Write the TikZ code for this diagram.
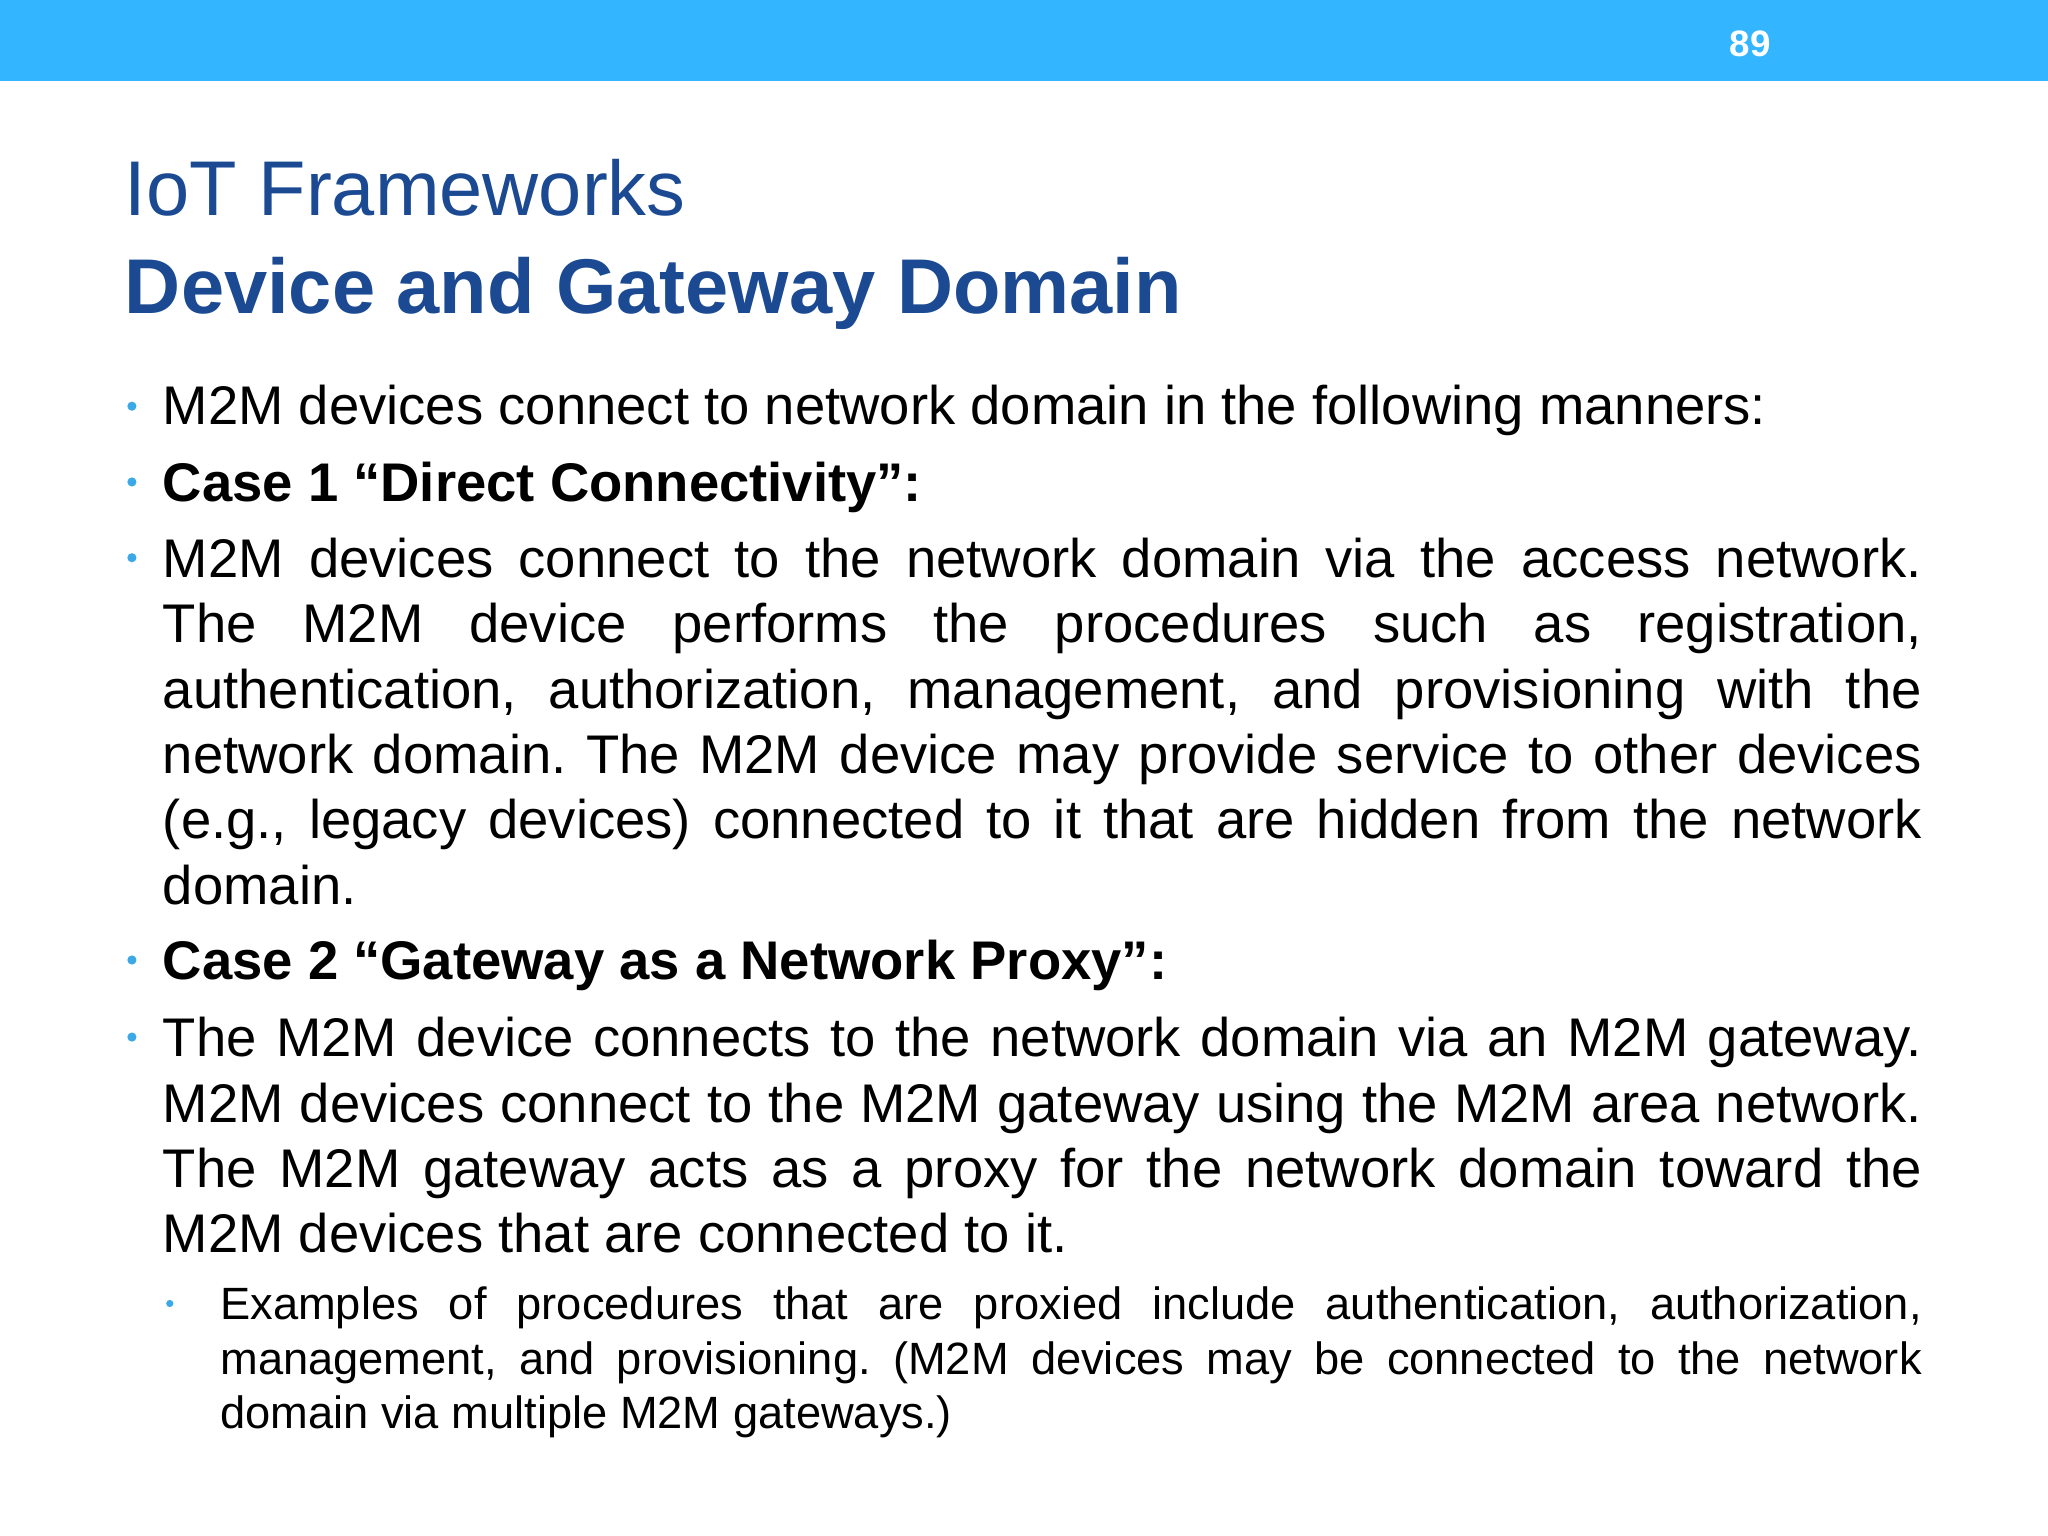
\documentclass[tikz,border=0pt]{standalone}
\usepackage{fontspec}
\setmainfont{Liberation Sans}
\definecolor{barblue}{HTML}{33B6FF}
\definecolor{titleblue}{HTML}{1B4A93}
\definecolor{bulblue}{HTML}{3BA9E8}
\begin{document}
\begin{tikzpicture}[x=0.01cm,y=-0.01cm,
 body/.style={anchor=base west,inner sep=0,text width=13.46cm,align=justify,font=\fontsize{11.85pt}{14.23pt}\selectfont\frenchspacing},
 sub/.style={anchor=base west,inner sep=0,text width=13.02cm,align=justify,font=\fontsize{9.85pt}{11.95pt}\selectfont\frenchspacing},
 bul/.style={fill=bulblue,circle,inner sep=0,minimum size=0.07cm}]
\useasboundingbox (0,0) rectangle (1568,1176);
\fill[white] (0,0) rectangle (1568,1176);
\fill[barblue] (0,0) rectangle (1568,62);
\node[anchor=base,text=white,font=\fontsize{8pt}{9pt}\selectfont\bfseries] (pg) at (1340,43) {89};
\node[anchor=base west,inner sep=0,text=titleblue,font=\fontsize{16.9pt}{20pt}\selectfont] (t1) at (95,165) {IoT Frameworks};
\node[anchor=base west,inner sep=0,text=titleblue,font=\fontsize{16.9pt}{20pt}\selectfont\bfseries] (t2) at (95,240) {Device and Gateway Domain};
\hyphenpenalty=10000 \exhyphenpenalty=10000
\node[bul] (b1) at (101,311) {};
\node[body] (p1) at (124,325) {M2M devices connect to network domain in the following manners:};
\node[bul] (b2) at (101,369) {};
\node[body] (p2) at (124,384) {\bfseries Case 1 “Direct Connectivity”:};
\node[bul] (b3) at (101,427) {};
\node[body] (p3) at (124,442) {\hyphenpenalty=10000 M2M devices connect to the network domain via the access network.\linebreak The M2M device performs the procedures such as registration,\linebreak authentication, authorization, management, and provisioning with the\linebreak network domain. The M2M device may provide service to other devices\linebreak (e.g., legacy devices) connected to it that are hidden from the network\linebreak domain.};
\node[bul] (b4) at (101,735) {};
\node[body] (p4) at (124,750) {\bfseries Case 2 “Gateway as a Network Proxy”:};
\node[bul] (b5) at (101,794) {};
\node[body] (p5) at (124,809) {\hyphenpenalty=10000 The M2M device connects to the network domain via an M2M gateway.\linebreak M2M devices connect to the M2M gateway using the M2M area network.\linebreak The M2M gateway acts as a proxy for the network domain toward the\linebreak M2M devices that are connected to it.};
\node[bul,minimum size=0.055cm] (b6) at (130,998) {};
\node[sub] (p6) at (168,1010) {\hyphenpenalty=10000 Examples of procedures that are proxied include authentication, authorization, management, and provisioning. (M2M devices may be connected to the network domain via multiple M2M gateways.)};
\end{tikzpicture}
\end{document}
